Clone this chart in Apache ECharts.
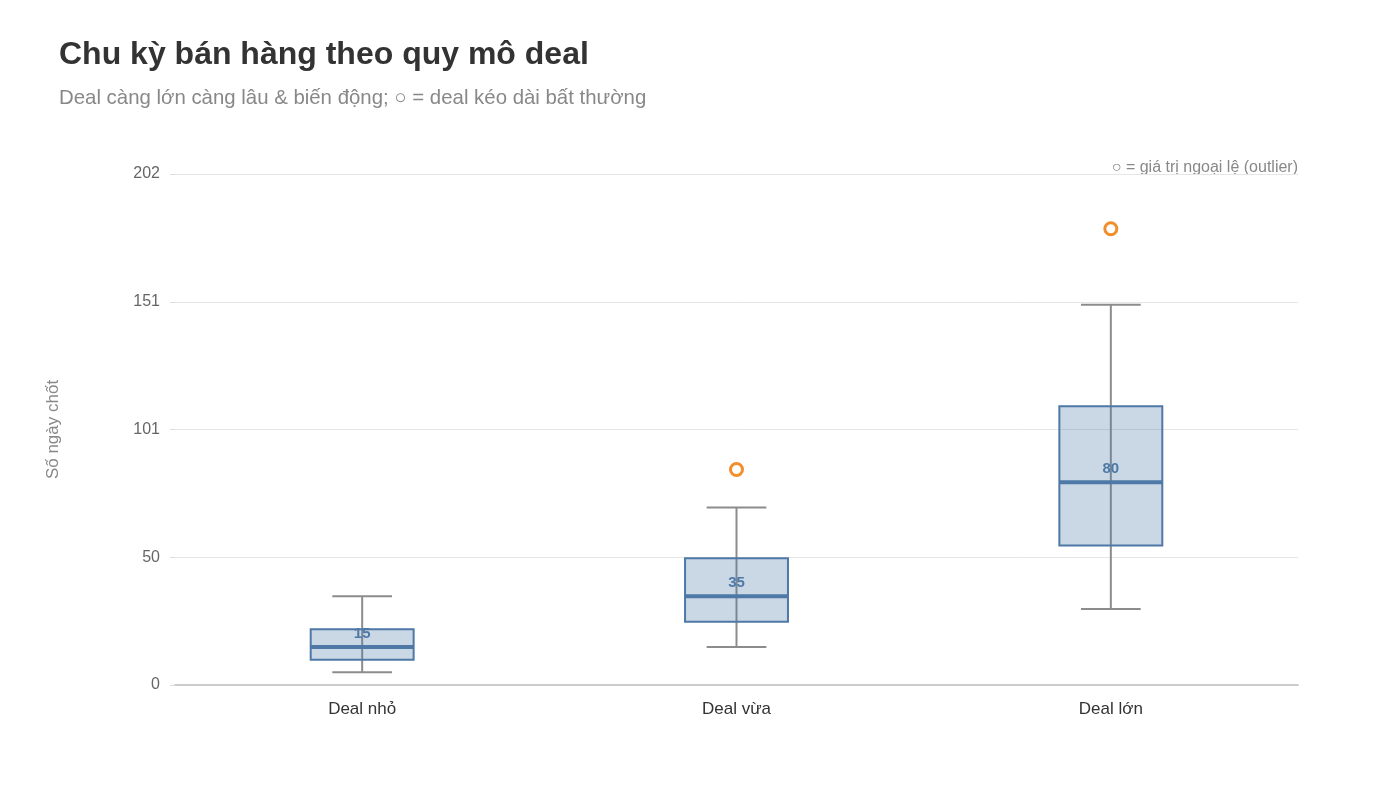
<!DOCTYPE html>
<html>
<head>
<meta charset="utf-8">
<script src="https://cdn.jsdelivr.net/npm/echarts@6/dist/echarts.min.js"></script>
<style>
  html, body { margin: 0; padding: 0; background: #fff; }
  #chart { width: 1400px; height: 787px; }
</style>
</head>
<body>
<div id="chart"></div>
<script>
// dữ liệu
const categories = ['Deal nhỏ', 'Deal vừa', 'Deal lớn'];
const lowValues = [5, 15, 30];
const q1Values = [10, 25, 55];
const medianValues = [15, 35, 80];
const q3Values = [22, 50, 110];
const highValues = [35, 70, 150];
const outliers = [[1, 85], [2, 180]];

const BLUE = '#4e79a7';
const GREY = '#8c8c8c';
const ORANGE = '#f28e2b';
const yMax = 180 * 1.12;

const boxData = categories.map((c, i) =>
  [i, lowValues[i], q1Values[i], medianValues[i], q3Values[i], highValues[i]]);

function renderBox(params, api) {
  const idx = api.value(0);
  const band = api.size([1, 0])[0];
  const w = band * 0.275;
  const capW = w * 0.58;
  const pLow = api.coord([idx, api.value(1)]);
  const pQ1 = api.coord([idx, api.value(2)]);
  const pMed = api.coord([idx, api.value(3)]);
  const pQ3 = api.coord([idx, api.value(4)]);
  const pHigh = api.coord([idx, api.value(5)]);
  const x = pMed[0];
  return {
    type: 'group',
    children: [
      { type: 'line', shape: { x1: x, y1: pLow[1], x2: x, y2: pHigh[1] },
        style: { stroke: GREY, lineWidth: 2 } },
      { type: 'line', shape: { x1: x - capW / 2, y1: pLow[1], x2: x + capW / 2, y2: pLow[1] },
        style: { stroke: GREY, lineWidth: 2 } },
      { type: 'line', shape: { x1: x - capW / 2, y1: pHigh[1], x2: x + capW / 2, y2: pHigh[1] },
        style: { stroke: GREY, lineWidth: 2 } },
      { type: 'rect', shape: { x: x - w / 2, y: pQ3[1], width: w, height: pQ1[1] - pQ3[1] },
        style: { fill: 'rgba(78,121,167,0.3)', stroke: BLUE, lineWidth: 2 } },
      { type: 'line', shape: { x1: x - w / 2, y1: pMed[1], x2: x + w / 2, y2: pMed[1] },
        style: { stroke: BLUE, lineWidth: 4 } },
      { type: 'text', x: x, y: pMed[1] - 13,
        style: { text: String(api.value(3)), fill: BLUE, font: 'bold 15px "Liberation Sans", Arial, sans-serif',
          textAlign: 'center', textVerticalAlign: 'middle' } }
    ]
  };
}

const chart = echarts.init(document.getElementById('chart'));
chart.setOption({
  backgroundColor: '#fff',
  textStyle: { fontFamily: '"Liberation Sans", Arial, sans-serif' },
  title: {
    text: 'Chu kỳ bán hàng theo quy mô deal',
    subtext: 'Deal càng lớn càng lâu & biến động; ○ = deal kéo dài bất thường',
    left: 54,
    top: 34,
    itemGap: 17,
    textStyle: { fontSize: 32, fontWeight: 'bold', color: '#333' },
    subtextStyle: { fontSize: 20.4, color: '#888' }
  },
  graphic: [{
    type: 'text',
    right: 102,
    top: 160,
    style: { text: '○ = giá trị ngoại lệ (outlier)', fill: '#888', font: '16px "Liberation Sans", Arial, sans-serif' }
  }],
  grid: { left: 175, right: 102, top: 174, bottom: 102 },
  xAxis: {
    type: 'category',
    data: categories,
    axisLine: { lineStyle: { color: '#ccc', width: 2 } },
    axisTick: { show: false },
    axisLabel: { color: '#333', fontSize: 17, margin: 16 }
  },
  yAxis: {
    type: 'value',
    min: 0,
    max: yMax,
    interval: yMax / 4,
    name: 'Số ngày chốt',
    nameLocation: 'middle',
    nameGap: 113,
    nameTextStyle: { color: '#888', fontSize: 17 },
    axisLine: { show: false },
    axisTick: { show: true, length: 5, lineStyle: { color: '#ddd' } },
    axisLabel: { color: '#666', fontSize: 16, margin: 15, formatter: v => Math.round(v) },
    splitLine: { lineStyle: { color: '#e6e6e6' } }
  },
  series: [
    {
      type: 'custom',
      renderItem: renderBox,
      encode: { x: 0, y: [1, 2, 3, 4, 5] },
      data: boxData,
      z: 3
    },
    {
      type: 'scatter',
      data: outliers,
      symbol: 'circle',
      symbolSize: 12,
      itemStyle: { color: '#fff', borderColor: ORANGE, borderWidth: 3, opacity: 1 },
      z: 4
    }
  ]
});
</script>
</body>
</html>
